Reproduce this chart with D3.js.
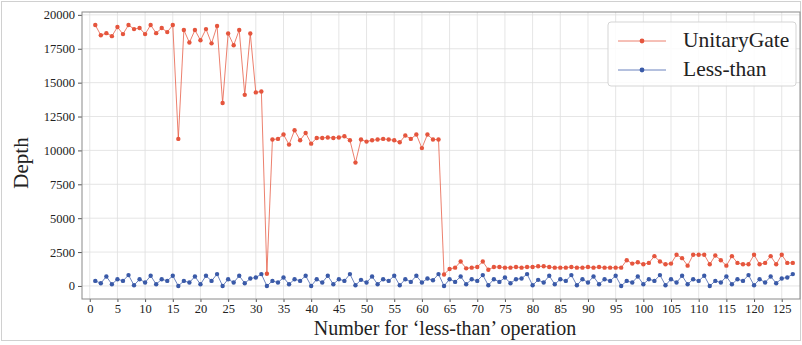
<!DOCTYPE html>
<html>
<head>
<meta charset="utf-8">
<script src="https://cdn.jsdelivr.net/npm/d3@7"></script>
<style>
  body { margin: 0; background: #fff; }
  svg text { font-family: "Liberation Serif", "Times New Roman", Times, serif; }
</style>
</head>
<body>
<div id="chart"></div>
<script>
// values, operation number 1..127
var unitaryGate = [
  19250, 18500, 18650, 18430, 19100, 18580, 19250, 18950, 19030, 18580, 19250, 18650, 19030, 18730, 19250, 10850,
  18880, 17960, 18880, 18130, 18950, 17900, 19180, 13500, 18630, 17760, 18880, 14100, 18630, 14280, 14350, 900,
  10800, 10850, 11170, 10430, 11490, 10750, 11290, 10500, 10920, 10920, 10950, 10920, 10950, 11040, 10750, 9100,
  10800, 10650, 10750, 10800, 10850, 10800, 10750, 10600, 11100, 10850, 11170, 10170, 11170, 10800, 10800, 850,
  1250, 1350, 1800, 1300, 1350, 1400, 1800, 1200, 1400, 1400, 1350, 1350, 1400, 1350, 1400, 1400,
  1450, 1450, 1400, 1350, 1350, 1350, 1400, 1350, 1350, 1400, 1350, 1400, 1350, 1350, 1350, 1350,
  1900, 1650, 1750, 1600, 1700, 2200, 1800, 1600, 1650, 2300, 2050, 1500, 2300, 2300, 2300, 1600,
  2250, 1900, 1500, 2200, 1700, 1600, 1600, 2300, 1600, 1700, 2200, 1600, 2300, 1700, 1700
];
var lessThan = [
  375, 200, 700, 125, 500, 375, 800, 50, 500, 250, 750, 125, 500, 375, 750, 0,
  375, 250, 700, 125, 750, 375, 875, 0, 500, 250, 750, 200, 550, 625, 875, 0,
  375, 250, 625, 125, 500, 375, 750, 0, 500, 250, 750, 125, 500, 375, 875, 50,
  450, 250, 700, 125, 500, 375, 750, 50, 500, 300, 750, 250, 550, 425, 875, 0,
  500, 300, 700, 125, 500, 375, 800, 50, 500, 300, 625, 200, 500, 550, 875, 50,
  450, 250, 750, 125, 500, 375, 800, 50, 500, 250, 700, 125, 500, 375, 750, 0,
  375, 250, 700, 125, 500, 375, 800, 50, 500, 250, 750, 125, 500, 375, 750, 0,
  375, 250, 700, 125, 500, 375, 800, 50, 500, 250, 700, 200, 550, 625, 875
];
var seriesNames = ["UnitaryGate", "Less-than"];
var seriesColors = ["#e5553d", "#3a5aa8"];
var xTicks = d3.range(0, 126, 5);
var yTicks = [0, 2500, 5000, 7500, 10000, 12500, 15000, 17500, 20000];

var serif = "'Liberation Serif', 'Times New Roman', Times, serif";

var svgWidth = 802;
var svgHeight = 345;
var margin = { top: 12, right: 2, bottom: 46, left: 82 };
var width = svgWidth - margin.left - margin.right;
var height = svgHeight - margin.top - margin.bottom;

var svg = d3.select("#chart").append("svg")
  .attr("width", svgWidth)
  .attr("height", svgHeight);

// figure border
svg.append("rect")
  .attr("x", 1.5).attr("y", 1.5)
  .attr("width", svgWidth - 3).attr("height", 339)
  .attr("fill", "#fff")
  .attr("stroke", "#d0d0d0");

var chartGroup = svg.append("g")
  .attr("transform", `translate(${margin.left}, ${margin.top})`);

var xScale = d3.scaleLinear().domain([-1.4, 128.3]).range([0, width]);
var yScale = d3.scaleLinear().domain([-962, 20212]).range([height, 0]);

// grid
chartGroup.append("g").selectAll("line")
  .data(xTicks).enter().append("line")
  .attr("x1", d => xScale(d)).attr("x2", d => xScale(d))
  .attr("y1", 0).attr("y2", height)
  .attr("stroke", "#dedede").attr("stroke-width", 0.8);
chartGroup.append("g").selectAll("line")
  .data(yTicks).enter().append("line")
  .attr("x1", 0).attr("x2", width)
  .attr("y1", d => yScale(d)).attr("y2", d => yScale(d))
  .attr("stroke", "#dedede").attr("stroke-width", 0.8);

// axes
var bottomAxis = d3.axisBottom(xScale).tickValues(xTicks).tickSize(3).tickPadding(2);
var leftAxis = d3.axisLeft(yScale).tickValues(yTicks).tickFormat(d3.format("d")).tickSize(4).tickPadding(3);

var xAxis = chartGroup.append("g")
  .attr("transform", `translate(0, ${height})`)
  .call(bottomAxis);
var yAxis = chartGroup.append("g").call(leftAxis);

[xAxis, yAxis].forEach(function(ax) {
  ax.attr("font-family", serif).attr("font-size", 12.5);
  ax.select(".domain").remove();
  ax.selectAll("line").attr("stroke", "#555");
  ax.selectAll("text").attr("fill", "#222");
});

// frame
chartGroup.append("rect")
  .attr("width", width).attr("height", height)
  .attr("fill", "none").attr("stroke", "#8a8a8a").attr("stroke-width", 1);

var allSeries = [unitaryGate, lessThan];
var line = d3.line()
  .x((d, i) => xScale(i + 1))
  .y(d => yScale(d));

allSeries.forEach(function(values, k) {
  chartGroup.append("path")
    .datum(values)
    .attr("d", line)
    .attr("fill", "none")
    .attr("stroke", seriesColors[k])
    .attr("stroke-opacity", 0.75)
    .attr("stroke-width", 1);
  chartGroup.append("g").selectAll("circle")
    .data(values).enter().append("circle")
    .attr("cx", (d, i) => xScale(i + 1))
    .attr("cy", d => yScale(d))
    .attr("r", 2.2)
    .attr("fill", seriesColors[k]);
});

// legend
var legend = svg.append("g").attr("transform", "translate(608, 22)");
legend.append("rect")
  .attr("width", 188).attr("height", 64).attr("rx", 3)
  .attr("fill", "#fff").attr("fill-opacity", 0.85)
  .attr("stroke", "#d5d5d5");
seriesNames.forEach(function(name, k) {
  var yy = 19 + k * 29;
  legend.append("line")
    .attr("x1", 10).attr("x2", 58).attr("y1", yy).attr("y2", yy)
    .attr("stroke", seriesColors[k]).attr("stroke-opacity", 0.75).attr("stroke-width", 1);
  legend.append("circle")
    .attr("cx", 34).attr("cy", yy).attr("r", 2.4).attr("fill", seriesColors[k]);
  legend.append("text")
    .attr("x", 75).attr("y", yy + 6)
    .attr("font-family", serif)
    .attr("font-size", 21.5).attr("fill", "#222")
    .text(name);
});

// axis labels
svg.append("text")
  .attr("x", margin.left + width / 2 + 4).attr("y", 335)
  .attr("text-anchor", "middle")
  .attr("font-family", serif)
  .attr("font-size", 20).attr("fill", "#222")
  .text("Number for \u2018less-than\u2019 operation");

svg.append("text")
  .attr("transform", "translate(28, 163) rotate(-90)")
  .attr("text-anchor", "middle")
  .attr("font-family", serif)
  .attr("font-size", 21).attr("fill", "#222")
  .text("Depth");
</script>
</body>
</html>
